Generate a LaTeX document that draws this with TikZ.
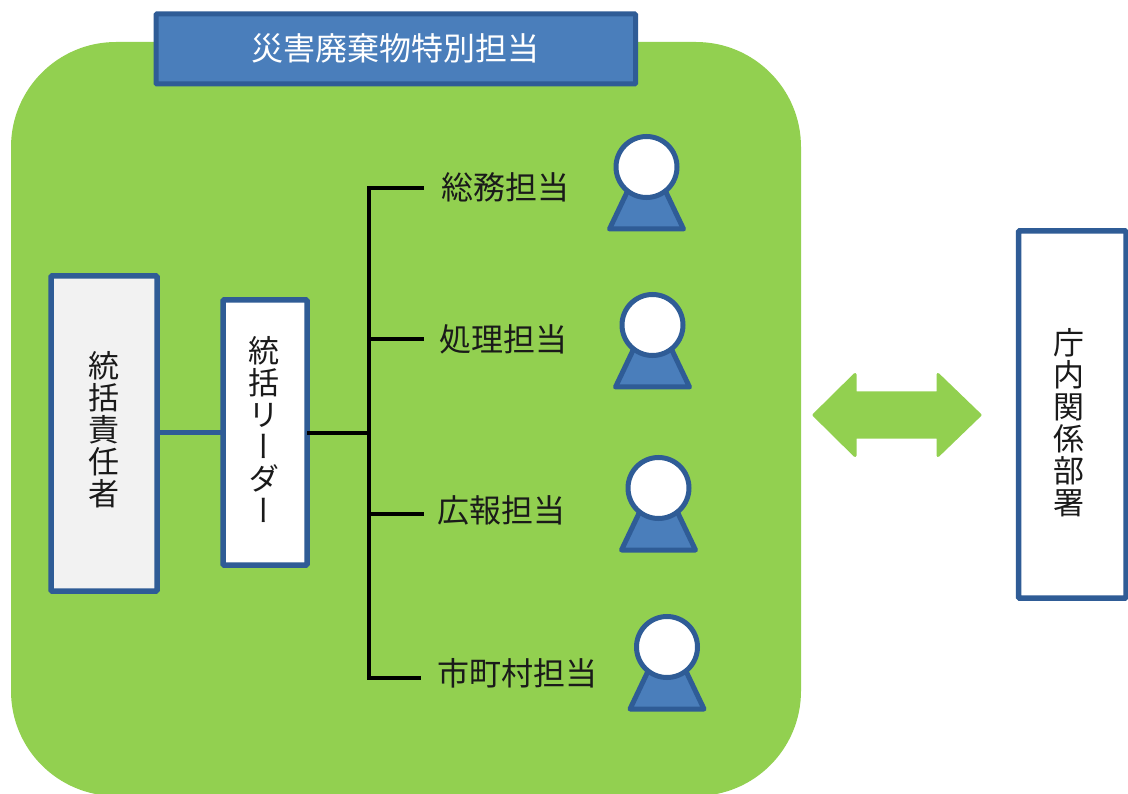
\documentclass[tikz,border=0pt]{standalone}
\usepackage{fontspec}
\setmainfont{Noto Sans CJK JP}
\newfontfamily\cjkv[RawFeature=+vert]{Noto Sans CJK JP}
\definecolor{panelgreen}{HTML}{92D050}
\definecolor{edgeblue}{HTML}{2F5C96}
\definecolor{fillblue}{HTML}{4A7EBB}
\definecolor{softgray}{HTML}{F2F2F2}
\definecolor{inkdark}{HTML}{1A1A1A}
\tikzset{
  titlebox/.style={draw=edgeblue,fill=fillblue,line width=5pt,inner sep=0pt,outer sep=0pt,rounded corners=1pt},
  orgbox/.style={draw=edgeblue,line width=5.5pt,inner sep=0pt,outer sep=0pt,rounded corners=1pt},
  vtext/.style={align=center,text=inkdark,inner sep=0pt,font=\cjkv\fontsize{31}{32}\selectfont},
  rolelabel/.style={text=inkdark,inner sep=0pt,font=\fontsize{32}{34}\selectfont},
  head/.style={circle,draw=edgeblue,fill=white,line width=5pt,minimum size=61pt,inner sep=0pt,outer sep=0pt},
  body/.style={draw=edgeblue,fill=fillblue,line width=5pt,line join=round},
  tree/.style={draw=black,line width=3.5pt,line join=miter},
  bluelink/.style={draw=edgeblue,line width=5pt},
}
\newcommand{\personfig}[3]{%
  \path[body] (#2-37,#3+62) -- (#2+37,#3+62) -- (#2+17,#3+20) -- (#2-17,#3+20) -- cycle;
  \node[head] (#1) at (#2,#3) {};
}
\begin{document}
\begin{tikzpicture}[x=1pt,y=-1pt]
\useasboundingbox (0,0) rectangle (1128,794);
\fill[white] (0,0) rectangle (1128,794);
\begin{scope}
\clip (0,0) rectangle (1128,794);
\fill[panelgreen,rounded corners=105pt] (11,42) rectangle (801,796);

\node[titlebox,minimum width=479.5pt,minimum height=70pt] (title) at (395.75,49) {};
\node[text=white,inner sep=0pt,font=\fontsize{32}{34}\selectfont] (titletext) at (395.5,48) {災害廃棄物特別担当};

\node[orgbox,fill=softgray,minimum width=106pt,minimum height=315pt] (chief) at (104,433.5) {};
\node[vtext] (chieftext) at (104,430) {統\\括\\責\\任\\者};
\node[orgbox,fill=white,minimum width=84pt,minimum height=265pt] (leader) at (265,432.5) {};
\node[vtext] (leadertext) at (264,430) {統\\括\\リ\\ー\\ダ\\ー};
\node[orgbox,fill=white,minimum width=107.5pt,minimum height=367pt] (dept) at (1072.25,414.5) {};
\node[vtext] (depttext) at (1069,423) {庁\\内\\関\\係\\部\\署};

\node[rolelabel] (r1) at (505.5,187) {総務担当};
\node[rolelabel] (r2) at (503.5,339) {処理担当};
\node[rolelabel] (r3) at (501.5,510) {広報担当};
\node[rolelabel] (r4) at (517.5,673) {市町村担当};

\coordinate (s1) at (369,188);
\coordinate (s2) at (369,339);
\coordinate (s0) at (369,433);
\coordinate (s3) at (369,514);
\coordinate (s4) at (369,678);
\coordinate (e1) at (424,188);
\coordinate (e2) at (424,339);
\coordinate (e3) at (424,514);
\coordinate (e4) at (421,678);

\draw[bluelink] (chief.east |- leader.center) -- (leader.west);
\draw[tree] (e1) -- (s1) -- (s4) -- (e4);
\draw[tree] (s2) -- (e2);
\draw[tree] (s3) -- (e3);
\draw[tree] (leader.east |- s0) -- (s0);

\personfig{p1}{646.5}{167}
\personfig{p2}{652.5}{325}
\personfig{p3}{658.5}{488}
\personfig{p4}{667}{647}

\fill[panelgreen,line join=round,draw=panelgreen,line width=3pt]
  (814,415) -- (855,374.5) -- (855,393) -- (938,393) -- (938,374.5) -- (980,415)
  -- (938,455.5) -- (938,437) -- (855,437) -- (855,455.5) -- cycle;
\end{scope}
\end{tikzpicture}
\end{document}
